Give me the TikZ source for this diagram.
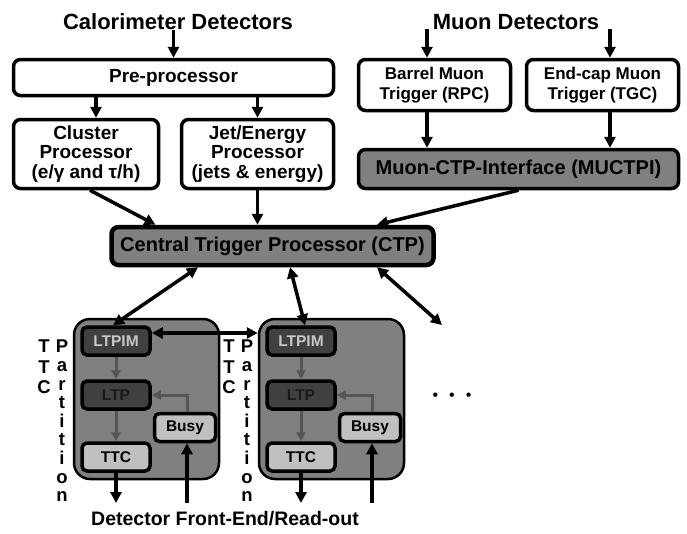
\documentclass[tikz,border=0pt]{standalone}
\usepackage{fontspec}
\setmainfont{Liberation Sans}
\usetikzlibrary{arrows.meta}
\definecolor{ctpgrey}{HTML}{808080}
\definecolor{ltpgrey}{HTML}{404040}
\definecolor{ttcgrey}{HTML}{C0C0C0}
\definecolor{linkgrey}{HTML}{555555}
\definecolor{labelgrey}{HTML}{C8C8C8}

\tikzset{
	box/.style={draw, line width=3.5pt, rounded corners=7pt, fill=white, align=center, inner sep=0pt, font=\bfseries\fontsize{19}{19.5}\selectfont},
	muonbox/.style={box, font=\bfseries\fontsize{17}{20}\selectfont},
	greybox/.style={box, fill=ctpgrey, font=\bfseries\fontsize{20}{20}\selectfont},
	partbox/.style={draw, line width=2.5pt, rounded corners=16pt, fill=ctpgrey, minimum width=145pt, minimum height=160pt},
	ltpbox/.style={draw, line width=3.5pt, rounded corners=5pt, fill=ltpgrey, minimum width=68pt, minimum height=28pt, inner sep=0pt, font=\bfseries\fontsize{15.5}{15.5}\selectfont},
	ttcbox/.style={ltpbox, fill=ttcgrey},
	title/.style={inner sep=0pt, font=\bfseries\fontsize{22}{22}\selectfont},
	letters/.style={inner sep=0pt, align=center, anchor=north, font=\bfseries\fontsize{18.5}{#1}\selectfont},
	arr/.style={-{Triangle[length=11pt,width=11pt]}, line width=3.5pt},
	dblarr/.style={{Triangle[length=11pt,width=11pt]}-{Triangle[length=11pt,width=11pt]}, line width=3.5pt},
	greyarr/.style={-{Triangle[length=9pt,width=9pt]}, line width=3pt, linkgrey}
}

\begin{document}
\begin{tikzpicture}[x=1pt, y=-1pt]
	\useasboundingbox (0,0) rectangle (687,533);

	\node[title] (calo) at (178,22) {Calorimeter Detectors};
	\node[title] (muon) at (516,22) {Muon Detectors};

	\node[box, minimum width=320pt, minimum height=36pt] (pre) at (173.5,77.5) {Pre-processor};
	\node[box, minimum width=145pt, minimum height=69pt] (cluster) at (86,154) {Cluster\\Processor\\(e/γ and τ/h)};
	\node[box, minimum width=152pt, minimum height=69pt] (jet) at (257.5,154) {Jet/Energy\\Processor\\(jets \& energy)};

	\node[muonbox, minimum width=152pt, minimum height=51pt] (barrel) at (434.5,85) {Barrel Muon\\Trigger (RPC)};
	\node[muonbox, minimum width=152pt, minimum height=51pt] (endcap) at (602.5,85) {End-cap Muon\\Trigger (TGC)};
	\node[greybox, minimum width=320pt, minimum height=39pt] (muctpi) at (518.5,169) {Muon-CTP-Interface (MUCTPI)};

	\node[greybox, line width=4.5pt, minimum width=322pt, minimum height=38pt] (ctp) at (272.5,246) {Central Trigger Processor (CTP)};

	\node[partbox] (partA) at (146.5,399) {};
	\node[ltpbox, text=labelgrey] (ltpimA) at (116,341) {LTPIM};
	\node[ltpbox, text=black!90] (ltpA) at (116,395) {LTP};
	\node[ttcbox] (ttcA) at (116,457) {TTC};
	\node[ttcbox, minimum width=61pt] (busyA) at (185,427.5) {Busy};
	\node[letters=20.5] (ttclabA) at (44,340) {T\\T\\C};
	\node[letters=18.6] (partlabA) at (62,340) {P\\a\\r\\t\\i\\t\\i\\o\\n};

	\node[partbox] (partB) at (331.5,399) {};
	\node[ltpbox, text=labelgrey] (ltpimB) at (301,341) {LTPIM};
	\node[ltpbox, text=black!90] (ltpB) at (301,395) {LTP};
	\node[ttcbox] (ttcB) at (301,457) {TTC};
	\node[ttcbox, minimum width=61pt] (busyB) at (370,427.5) {Busy};
	\node[letters=20.5] (ttclabB) at (229,340) {T\\T\\C};
	\node[letters=18.6] (partlabB) at (247,340) {P\\a\\r\\t\\i\\t\\i\\o\\n};

	\node[inner sep=0pt, font=\fontsize{16}{16}\selectfont] (dots) at (452,397) {•\hspace{11pt}•\hspace{11pt}•};
	\node[inner sep=0pt, font=\bfseries\fontsize{19.5}{19.5}\selectfont] (fe) at (225,519) {Detector Front-End/Read-out};

	\coordinate (spare) at (442,325);
	\coordinate (outA) at (116,503);
	\coordinate (inA) at (187,503);
	\coordinate (outB) at (301,503);
	\coordinate (inB) at (372,503);

	\draw[arr] (calo.south -| pre.north) -- (pre.north);
	\draw[arr] ([xshift=10pt]cluster.north |- pre.south) -- ([xshift=10pt]cluster.north);
	\draw[arr] (jet.north |- pre.south) -- (jet.north);

	\draw[arr] ([xshift=-7.5pt]barrel.north |- muon.base) -- ([xshift=-7.5pt]barrel.north);
	\draw[arr] ([xshift=7.5pt]endcap.north |- muon.base) -- ([xshift=7.5pt]endcap.north);
	\draw[arr] ([xshift=-7.5pt]barrel.south) -- ([xshift=-7.5pt]barrel.south |- muctpi.north);
	\draw[arr] ([xshift=7.5pt]endcap.south) -- ([xshift=7.5pt]endcap.south |- muctpi.north);

	\draw[arr] ([xshift=4pt]cluster.south) -- ([xshift=-117pt]ctp.north);
	\draw[arr] (jet.south) -- (jet.south |- ctp.north);
	\draw[arr] (muctpi.south) -- ([xshift=104.5pt]ctp.north);

	\draw[dblarr] ([xshift=-74.5pt]ctp.south) -- ([xshift=-3pt]ltpimA.north);
	\draw[dblarr] ([xshift=17.5pt]ctp.south) -- ([xshift=4pt]ltpimB.north);
	\draw[dblarr] ([xshift=104.5pt]ctp.south) -- (spare);
	\draw[dblarr] ([yshift=8pt]ltpimA.east) -- ([yshift=8pt]ltpimA.east -| partB.west);

	\draw[greyarr] (ltpimA) -- (ltpA);
	\draw[greyarr] (ltpA) -- (ttcA);
	\draw[greyarr] ([xshift=2pt]busyA.north) |- (ltpA.east);
	\draw[arr] (ttcA.south) -- (outA);
	\draw[arr] (inA) -- (inA |- busyA.south);

	\draw[greyarr] (ltpimB) -- (ltpB);
	\draw[greyarr] (ltpB) -- (ttcB);
	\draw[greyarr] ([xshift=2pt]busyB.north) |- (ltpB.east);
	\draw[arr] (ttcB.south) -- (outB);
	\draw[arr] (inB) -- (inB |- busyB.south);
\end{tikzpicture}
\end{document}
